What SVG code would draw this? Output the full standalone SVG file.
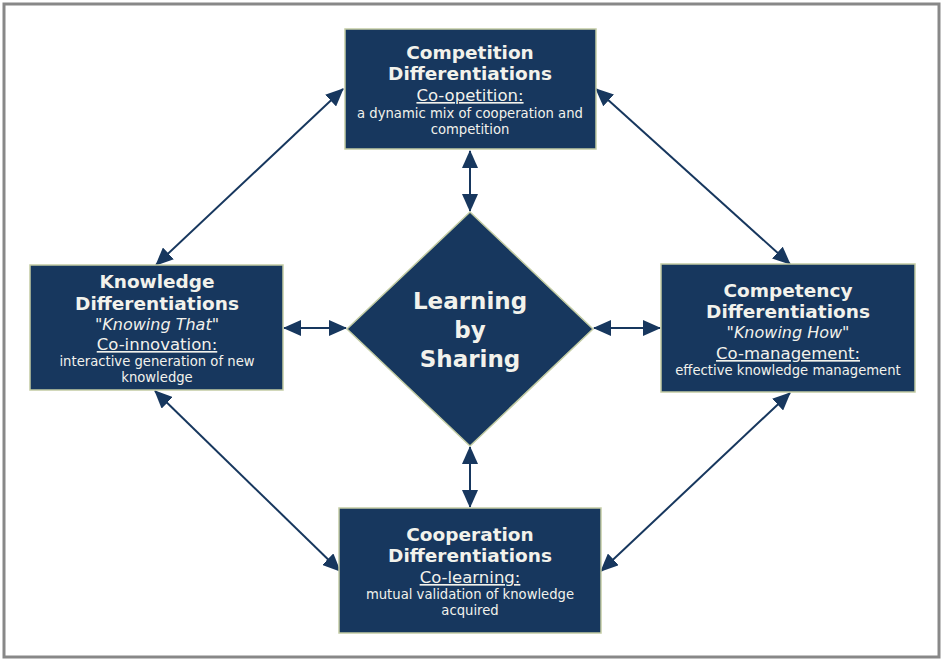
<svg xmlns="http://www.w3.org/2000/svg" width="942" height="660" viewBox="0 0 942 660">
<style>
.box{fill:#17375e;stroke:#c3cca4;stroke-width:1.5}
.t{font-family:"DejaVu Sans",Verdana,sans-serif;fill:#f2f2ec;text-anchor:middle}
.h{font-weight:bold;font-size:18.5px}
.u{font-size:16.5px;text-decoration:underline}
.i{font-size:16px;font-style:italic}
.s{font-size:13.2px}
.big{font-weight:bold;font-size:23px}
.c{stroke:#17375e;stroke-width:2;fill:none;marker-start:url(#ah);marker-end:url(#ah)}
</style>
<defs>
<marker id="ah" viewBox="0 0 18 16" refX="17" refY="8" markerWidth="18" markerHeight="16" markerUnits="userSpaceOnUse" orient="auto-start-reverse">
<path d="M0,0 L18,8 L0,16 Z" fill="#17375e"/>
</marker>
</defs>
<rect x="4" y="4" width="935" height="653" fill="#ffffff" stroke="#888888" stroke-width="3"/>
<g id="connectors">
<line class="c" x1="470" y1="151" x2="470" y2="211"/>
<line class="c" x1="470" y1="447" x2="470" y2="507"/>
<line class="c" x1="284" y1="328" x2="346" y2="328"/>
<line class="c" x1="594" y1="328" x2="660" y2="328"/>
<line class="c" x1="343" y1="89" x2="156" y2="265"/>
<line class="c" x1="596" y1="89" x2="790" y2="264"/>
<line class="c" x1="155" y1="391" x2="340" y2="571"/>
<line class="c" x1="790" y1="393" x2="601" y2="571"/>
</g>
<g id="competition">
<rect class="box" x="345" y="29" width="251" height="120"/>
<text class="t h" x="470" y="59">Competition</text>
<text class="t h" x="470" y="80">Differentiations</text>
<text class="t u" x="470" y="101">Co-opetition:</text>
<text class="t s" x="470" y="118">a dynamic mix of cooperation and</text>
<text class="t s" x="470" y="134">competition</text>
</g>
<g id="knowledge">
<rect class="box" x="30" y="265" width="253" height="125"/>
<text class="t h" x="157" y="288">Knowledge</text>
<text class="t h" x="157" y="310">Differentiations</text>
<text class="t i" x="157" y="330">"Knowing That"</text>
<text class="t u" x="157" y="350">Co-innovation:</text>
<text class="t s" x="157" y="366">interactive generation of new</text>
<text class="t s" x="157" y="382">knowledge</text>
</g>
<g id="competency">
<rect class="box" x="661" y="264" width="254" height="128"/>
<text class="t h" x="788" y="297">Competency</text>
<text class="t h" x="788" y="318">Differentiations</text>
<text class="t i" x="788" y="338">"Knowing How"</text>
<text class="t u" x="788" y="359">Co-management:</text>
<text class="t s" x="788" y="375">effective knowledge management</text>
</g>
<g id="cooperation">
<rect class="box" x="339" y="508" width="262" height="125"/>
<text class="t h" x="470" y="541">Cooperation</text>
<text class="t h" x="470" y="562">Differentiations</text>
<text class="t u" x="470" y="583">Co-learning:</text>
<text class="t s" x="470" y="599">mutual validation of knowledge</text>
<text class="t s" x="470" y="615">acquired</text>
</g>
<g id="learning">
<polygon class="box" points="470,212 593,329 470,446 347,329"/>
<text class="t big" x="470" y="309">Learning</text>
<text class="t big" x="470" y="338">by</text>
<text class="t big" x="470" y="367">Sharing</text>
</g>
</svg>
